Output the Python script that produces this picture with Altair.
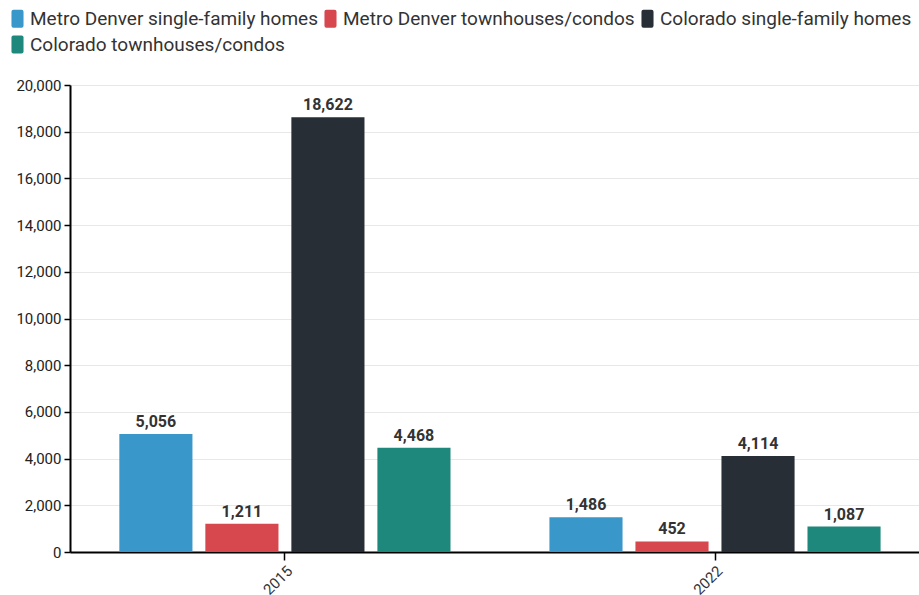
import altair as alt
import pandas as pd

years = ["2015", "2022"]
series = [
    "Metro Denver single-family homes",
    "Metro Denver townhouses/condos",
    "Colorado single-family homes",
    "Colorado townhouses/condos",
]
colors = ["#3a97c9", "#d6474e", "#272e36", "#1f887c"]
values_2015 = [5056, 1211, 18622, 4468]
values_2022 = [1486, 452, 4114, 1087]

rows = []
for y, vals in zip(years, [values_2015, values_2022]):
    for s, v in zip(series, vals):
        rows.append({"year": y, "series": s, "value": v})
df = pd.DataFrame(rows)

rounded = ("M -0.45,-1 L 0.45,-1 Q 0.67,-1 0.67,-0.78 L 0.67,0.78 Q 0.67,1 0.45,1 "
           "L -0.45,1 Q -0.67,1 -0.67,0.78 L -0.67,-0.78 Q -0.67,-1 -0.45,-1 Z")

x = alt.X("year:N", title=None,
          scale=alt.Scale(paddingInner=0.2, paddingOuter=0.087, align=0.573),
          axis=alt.Axis(labelAngle=-45, labelFont="Roboto", labelFontSize=15,
                        labelColor="#333", domainColor="#000", domainWidth=2,
                        tickColor="#000", tickSize=8, tickWidth=1.5, labelPadding=3))
xo = alt.XOffset("series:N", sort=series,
                 scale=alt.Scale(paddingInner=0.15, paddingOuter=0.075))
y = alt.Y("value:Q", title=None,
          scale=alt.Scale(domain=[0, 20000], nice=False),
          axis=alt.Axis(values=list(range(0, 20001, 2000)), format=",.0f",
                        labelFont="Roboto", labelFontSize=15, labelColor="#222",
                        domainColor="#000", domainWidth=2, tickColor="#000",
                        tickSize=6, tickWidth=1.5, gridColor="#e8e8e8", labelPadding=3))
color = alt.Color("series:N", sort=series,
                  scale=alt.Scale(domain=series, range=colors),
                  legend=alt.Legend(title=None, orient="none", legendX=-62, legendY=-76,
                                    direction="horizontal", columns=3,
                                    labelFont="Roboto", labelFontSize=19, labelColor="#333",
                                    symbolType=rounded, symbolSize=324, symbolStrokeWidth=0,
                                    symbolOpacity=1, columnPadding=3, rowPadding=6,
                                    labelOffset=3, labelLimit=400, padding=0))

base = alt.Chart(df).encode(x=x, xOffset=xo)
bars = base.mark_bar(opacity=1).encode(y=y, color=color)
labels = base.mark_text(dy=-12, font="Roboto", fontSize=16, fontWeight="bold",
                        color="#333").encode(y="value:Q", text=alt.Text("value:Q", format=","))

chart = (bars + labels).properties(
    width=849, height=467,
    autosize=alt.AutoSizeParams(type="none"),
    padding={"left": 70, "top": 85, "right": 0, "bottom": 43},
).configure_view(stroke=None).configure(background="white")

chart.save("out.html", embed_options={"renderer": "svg", "actions": False})
